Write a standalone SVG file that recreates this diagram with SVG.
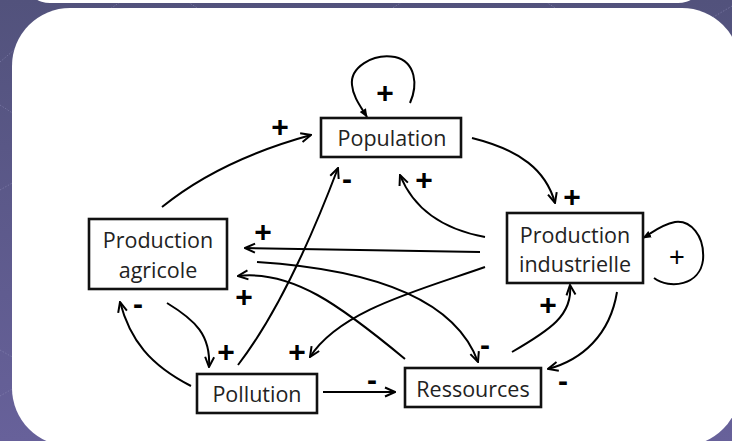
<svg xmlns="http://www.w3.org/2000/svg" width="732" height="441" viewBox="0 0 732 441">
<defs>
  <linearGradient id="bg" x1="0" y1="0" x2="0" y2="1">
    <stop offset="0" stop-color="#52527c"/>
    <stop offset="1" stop-color="#67619a"/>
  </linearGradient>
  <marker id="arr" viewBox="0 0 12 12" refX="11" refY="6" markerWidth="12" markerHeight="12" markerUnits="userSpaceOnUse" orient="auto">
    <path d="M1,1.5 L11,6 L1,10.5" fill="none" stroke="#000" stroke-width="2"/>
  </marker>
  <marker id="tri" viewBox="0 0 10 10" refX="9" refY="5" markerWidth="9" markerHeight="9" markerUnits="userSpaceOnUse" orient="auto">
    <path d="M0,1 L10,5 L0,9 Z" fill="#000"/>
  </marker>
  <style>
    .box{fill:#fff;stroke:#111;stroke-width:2.6}
    .lbl{font-family:"Open Sans","Noto Sans",sans-serif;font-size:21.5px;fill:#222;text-anchor:middle}
    .sg{font-family:"Liberation Sans",Arial,sans-serif;font-size:30px;font-weight:bold;fill:#000;text-anchor:middle}
    .sgn{font-family:"Liberation Sans",Arial,sans-serif;font-size:27px;fill:#000;text-anchor:middle}
    .c{fill:none;stroke:#000;stroke-width:2}
    .a{marker-end:url(#arr)}
    .bgl{stroke:#8c89b5;stroke-width:0.8;stroke-dasharray:1.5 1.5;opacity:0.7}
  </style>
</defs>
<rect width="732" height="441" fill="url(#bg)"/>
<g id="bg-lines">
  <line class="bgl" x1="0" y1="62" x2="14" y2="50"/>
  <line class="bgl" x1="0" y1="105" x2="14" y2="114"/>
  <line class="bgl" x1="0" y1="190" x2="14" y2="182"/>
  <line class="bgl" x1="0" y1="350" x2="14" y2="358"/>
  <line class="bgl" x1="0" y1="396" x2="14" y2="388"/>
  <line class="bgl" x1="106" y1="12" x2="120" y2="2"/>
  <line class="bgl" x1="188" y1="2" x2="202" y2="11"/>
  <line class="bgl" x1="388" y1="11" x2="402" y2="2"/>
  <line class="bgl" x1="546" y1="2" x2="560" y2="11"/>
  <line class="bgl" x1="705" y1="22" x2="732" y2="6"/>
</g>
<rect x="28" y="-30" width="672" height="33" rx="22" fill="#fff"/>
<rect x="12" y="8" width="728" height="438" rx="58" fill="#fff"/>

<g id="connectors">
  <!-- Population self loop -->
  <path class="c" d="M410,103 C418,85 416,62 395,57 C372,53 350,68 352,85 C353,97 361,107 367,117" marker-end="url(#tri)"/>
  <!-- Agricole -> Population -->
  <path class="c a" d="M162,207 Q220,160 311,135"/>
  <!-- Population -> Industrielle -->
  <path class="c a" d="M472,138 C520,150 546,170 555,203"/>
  <!-- Industrielle -> Population -->
  <path class="c a" d="M485,237 Q420,225 400,175"/>
  <!-- Pollution -> Population -->
  <path class="c a" d="M238,365 Q288,300 338,168"/>
  <!-- Industrielle -> Agricole -->
  <path class="c a" d="M480,252 L245,248"/>
  <!-- Agricole -> Ressources -->
  <path class="c a" d="M257,262 C350,268 452,290 478,362"/>
  <!-- Ressources -> Agricole -->
  <path class="c a" d="M405,359 C340,305 292,270 238,276"/>
  <!-- Industrielle -> Pollution -->
  <path class="c a" d="M485,267 C420,290 340,310 310,357"/>
  <!-- Agricole -> Pollution -->
  <path class="c a" d="M167,303 C195,320 211,335 209,367"/>
  <!-- Pollution -> Agricole -->
  <path class="c a" d="M191,386 C150,365 130,340 120,302"/>
  <!-- Pollution -> Ressources -->
  <path class="c a" d="M323,392 L395,392"/>
  <!-- Ressources -> Industrielle -->
  <path class="c a" d="M512,352 C550,330 573,315 570,285"/>
  <!-- Industrielle -> Ressources -->
  <path class="c a" d="M617,292 C610,335 582,360 548,369"/>
  <!-- Industrielle self loop -->
  <path class="c" d="M654,278 C670,290 700,285 703,260 C705,235 690,220 675,222 C660,225 652,233 643,238" marker-end="url(#tri)"/>
</g>

<g id="signs">
  <text class="sg" x="385" y="103">+</text>
  <text class="sg" x="280" y="137">+</text>
  <text class="sg" x="572" y="207">+</text>
  <text class="sg" x="424" y="190">+</text>
  <text class="sg" x="347" y="189">-</text>
  <text class="sg" x="263" y="242">+</text>
  <text class="sg" x="485" y="355">-</text>
  <text class="sg" x="244" y="307">+</text>
  <text class="sg" x="297" y="362">+</text>
  <text class="sg" x="226" y="362">+</text>
  <text class="sg" x="138" y="314">-</text>
  <text class="sg" x="372" y="390">-</text>
  <text class="sg" x="548" y="315">+</text>
  <text class="sg" x="563" y="391">-</text>
  <text class="sgn" x="677" y="266">+</text>
</g>

<g id="population">
  <rect class="box" x="321" y="118" width="140" height="39"/>
  <text class="lbl" x="392" y="146">Population</text>
</g>
<g id="production-agricole">
  <rect class="box" x="89" y="219" width="138" height="70"/>
  <text class="lbl" x="158" y="248">Production</text>
  <text class="lbl" x="158" y="278">agricole</text>
</g>
<g id="production-industrielle">
  <rect class="box" x="507" y="213" width="136" height="70"/>
  <text class="lbl" x="575" y="243">Production</text>
  <text class="lbl" x="575" y="272">industrielle</text>
</g>
<g id="pollution">
  <rect class="box" x="197" y="374" width="120" height="39"/>
  <text class="lbl" x="257" y="402">Pollution</text>
</g>
<g id="ressources">
  <rect class="box" x="405" y="368" width="136" height="39"/>
  <text class="lbl" x="473" y="397">Ressources</text>
</g>
</svg>
